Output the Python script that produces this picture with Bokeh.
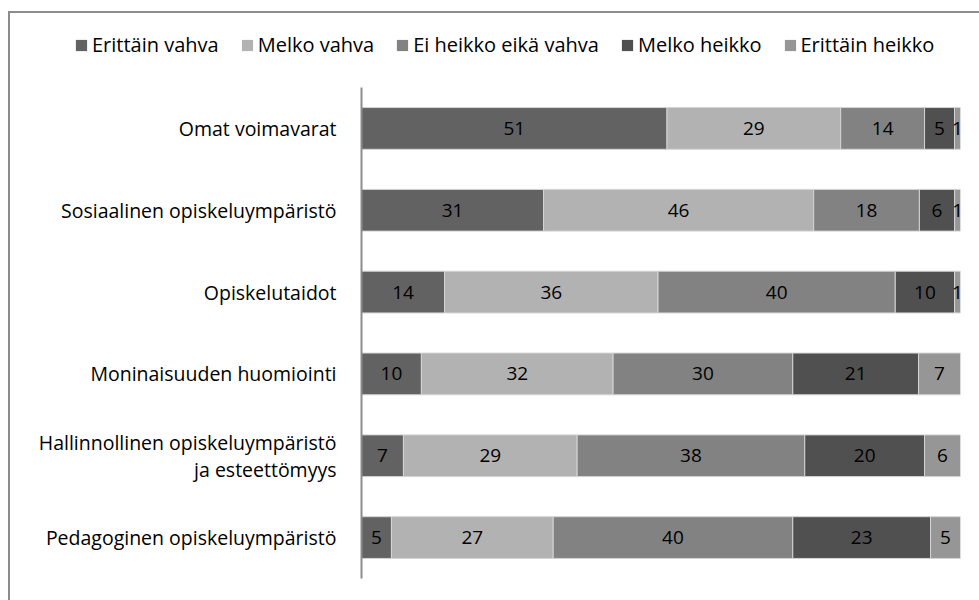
from bokeh.plotting import figure
from bokeh.layouts import column
from bokeh.models import ColumnDataSource, LabelSet, Legend, LegendItem, FactorRange, Range1d
from bokeh.embed import file_html
from bokeh.resources import INLINE
from bokeh.core.properties import value

# ---- data ----
categories = [
    "Omat voimavarat",
    "Sosiaalinen opiskeluympäristö",
    "Opiskelutaidot",
    "Moninaisuuden huomiointi",
    "Hallinnollinen opiskeluympäristö\nja esteettömyys",
    "Pedagoginen opiskeluympäristö",
]
series = ["Erittäin vahva", "Melko vahva", "Ei heikko eikä vahva", "Melko heikko", "Erittäin heikko"]
erittain_vahva = [51, 31, 14, 10, 7, 5]
melko_vahva = [29, 46, 36, 32, 29, 27]
ei_heikko_eika_vahva = [14, 18, 40, 30, 38, 40]
melko_heikko = [5, 6, 10, 21, 20, 23]
erittain_heikko = [1, 1, 1, 7, 6, 5]
colors = ["#626262", "#b2b2b2", "#828282", "#505050", "#969696"]

values = [erittain_vahva, melko_vahva, ei_heikko_eika_vahva, melko_heikko, erittain_heikko]
FONT = "Open Sans"

# ---- main chart ----
p = figure(
    width=969, height=523,
    y_range=FactorRange(factors=list(reversed(categories)), range_padding=0),
    x_range=Range1d(0, 100),
    output_backend="svg", toolbar_location=None,
    min_border_left=351, min_border_right=19, min_border_top=10, min_border_bottom=22,
)
p.frame_align = False
p.outline_line_color = None
p.xgrid.visible = False
p.ygrid.visible = False
p.xaxis.visible = False

totals = [sum(v[i] for v in values) for i in range(len(categories))]
cum = [0.0] * len(categories)
for name, vals, col in zip(series, values, colors):
    left = [cum[i] / totals[i] * 100 for i in range(len(categories))]
    right = [(cum[i] + vals[i]) / totals[i] * 100 for i in range(len(categories))]
    mid = [(l + r) / 2 for l, r in zip(left, right)]
    cum = [cum[i] + vals[i] for i in range(len(categories))]
    src = ColumnDataSource(dict(cat=categories, left=left, right=right, mid=mid,
                                txt=[str(v) for v in vals]))
    p.hbar(y="cat", left="left", right="right", height=0.51, source=src,
           fill_color=col, line_color="#d4d4d4", line_width=1)
    lab = LabelSet(x="mid", y="cat", text="txt", source=src,
                   text_align="center", text_baseline="middle",
                   text_font=value(FONT), text_font_size="19px", text_color="#000000")
    p.add_layout(lab)

ax = p.yaxis[0]
ax.axis_line_color = "#8c8c8c"
ax.axis_line_width = 2
ax.major_tick_line_color = None
ax.minor_tick_line_color = None
ax.major_label_standoff = 19
ax.major_label_text_font = FONT
ax.major_label_text_font_size = "19.5px"
ax.major_label_text_line_height = 1.0
ax.major_label_text_color = "#000000"

# ---- legend strip ----
pl = figure(width=969, height=64, x_range=Range1d(0, 1), y_range=Range1d(0, 1),
            output_backend="svg", toolbar_location=None,
            min_border_left=0, min_border_right=0, min_border_top=0, min_border_bottom=0)
pl.frame_align = False
pl.outline_line_color = None
pl.axis.visible = False
pl.grid.visible = False
items = []
for name, col in zip(series, colors):
    # zero-size proxy bar: only used to draw the legend swatch
    r = pl.hbar(y=[0], left=[0], right=[0], height=0, fill_color=col, line_color=None)
    items.append(LegendItem(label=name, renderers=[r]))

legend = Legend(items=items, orientation="horizontal", location=(64, 19))
legend.label_text_font = FONT
legend.label_text_font_size = "20px"
legend.label_text_color = "#000000"
legend.glyph_width = 14
legend.glyph_height = 14
legend.label_standoff = 4
legend.spacing = 21
legend.padding = 0
legend.margin = 0
legend.border_line_color = None
legend.background_fill_alpha = 0
pl.add_layout(legend)

layout = column(pl, p, spacing=0)
layout.styles = {
    "margin-left": "8px", "margin-top": "11px",
    "border-left": "2px solid #8c8c8c", "border-top": "2px solid #8c8c8c",
}

open("out.html", "w").write(file_html(layout, INLINE))
